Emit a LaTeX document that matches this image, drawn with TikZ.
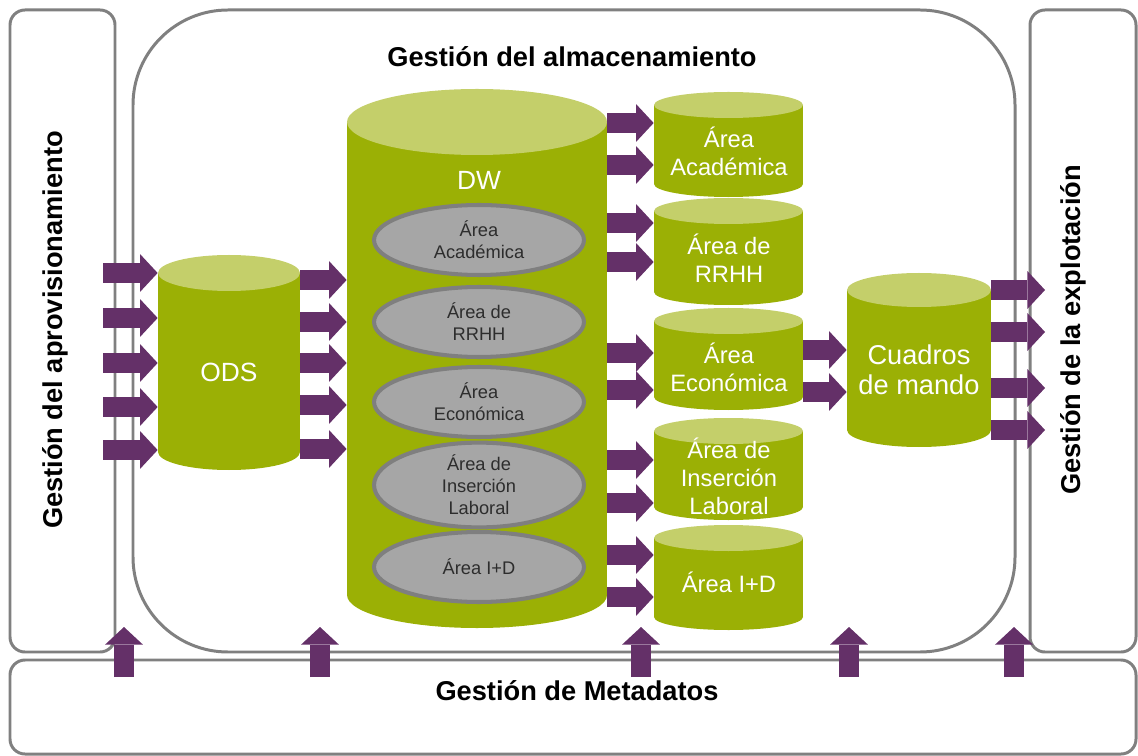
\documentclass[tikz,border=0pt]{standalone}
\usepackage{fontspec}
\setmainfont{Liberation Sans}
\usetikzlibrary{arrows.meta,fit,shapes.geometric}

\definecolor{dwgreen}{RGB}{155,176,5}
\definecolor{dwlight}{RGB}{196,207,106}
\definecolor{flowpurple}{RGB}{100,48,104}
\definecolor{framegray}{RGB}{128,128,128}
\definecolor{areagray}{RGB}{166,166,166}
\definecolor{areadark}{RGB}{127,127,127}
\definecolor{textgray}{RGB}{45,45,45}

% drum: name, left, right, top, bottom, half height of the caps
\newcommand{\drum}[6]{
  \fill[dwgreen] (#2,#4) rectangle (#3,#5);
  \fill[dwgreen] ({(#2+#3)/2},#5) ellipse [x radius = {(#3-#2)/2}, y radius = #6];
  \fill[dwlight] ({(#2+#3)/2},#4) ellipse [x radius = {(#3-#2)/2}, y radius = #6];
  \path (#2,#4) coordinate (#1-nw) (#3,#5) coordinate (#1-se);
  \node[fit = (#1-nw)(#1-se), inner sep = 0pt] (#1) {};
}

\begin{document}
\begin{tikzpicture}[
    x = 0.02cm, y = -0.02cm,
    frame/.style = {draw = framegray, line width = 1.7pt, rounded corners = 0.3cm},
    title/.style = {font = \fontsize{15.5}{18}\selectfont\bfseries},
    drumtext/.style = {
      text = white, align = center, inner sep = 0pt,
      font = \fontsize{13.5}{16}\selectfont,
    },
    area/.style = {
      ellipse, draw = areadark, line width = 2.3pt, fill = areagray,
      minimum width = 4.2cm, minimum height = 1.4cm, inner sep = 0pt,
      align = center, text = textgray, font = \fontsize{10.4}{12.5}\selectfont,
    },
    flow/.style = {
      draw = flowpurple, line width = 11.3pt,
      -{Triangle[width = 21.5pt, length = 10pt, line width = 0pt]},
    },
  ]

  \useasboundingbox (0,0) rectangle (1138,756);

  \draw[frame] (10,10) rectangle (115,652);
  \draw[frame, rounded corners = 1.9cm] (133,10) rectangle (1015,652);
  \draw[frame] (1030,10) rectangle (1136,652);
  \draw[frame] (10,660) rectangle (1136,754);

  \node[title] (alm) at (572,57) {Gestión del almacenamiento};
  \node[title, rotate = 90] (prov) at (55,330) {Gestión del aprovisionamiento};
  \node[title, rotate = 90] (expl) at (1073,330) {Gestión de la explotación};
  \node[title] (meta) at (577,691) {Gestión de Metadatos};

  \drum{ods}{158}{300}{273}{452}{18}
  \drum{dw}{347}{607}{122}{595}{33}
  \drum{acad}{654}{803}{105}{184}{13}
  \drum{rrhh}{654}{803}{211}{292}{13}
  \drum{econ}{654}{803}{321}{397}{13}
  \drum{ins}{654}{803}{431}{507}{13}
  \drum{id}{654}{803}{538}{617}{13}
  \drum{cm}{847}{991}{290}{430}{17}

  \node[drumtext, font = \fontsize{15}{18}\selectfont] (ods-t) at (229,372) {ODS};
  \node[drumtext, font = \fontsize{15}{18}\selectfont] (dw-t) at (479,180) {DW};
  \node[drumtext] (acad-t) at (729,151) {Área\\Académica};
  \node[drumtext] (rrhh-t) at (729,258) {Área de\\RRHH};
  \node[drumtext] (econ-t) at (729,367) {Área\\Económica};
  \node[drumtext] (ins-t) at (729,476) {Área de\\Inserción\\Laboral};
  \node[drumtext] (id-t) at (729,582) {Área I+D};
  \node[drumtext, font = \fontsize{15.5}{17}\selectfont] (cm-t) at (919,370) {Cuadros\\de mando};

  \node[area] (dw-acad) at (479,240) {Área\\Académica};
  \node[area] (dw-rrhh) at (479,322) {Área de\\RRHH};
  \node[area] (dw-econ) at (479,402) {Área\\Económica};
  \node[area] (dw-ins) at (479,485) {Área de\\Inserción\\Laboral};
  \node[area] (dw-id) at (479,567) {Área I+D};

  \foreach \y in {273,318,363,407,450}
    \draw[flow] (103,\y) -- (ods.west |- 0,\y);
  \foreach \y in {280,322,363,405,449}
    \draw[flow] (ods.east |- 0,\y) -- (dw.west |- 0,\y);
  \foreach \y in {123,165}
    \draw[flow] (dw.east |- 0,\y) -- (acad.west |- 0,\y);
  \foreach \y in {223,262}
    \draw[flow] (dw.east |- 0,\y) -- (rrhh.west |- 0,\y);
  \foreach \y in {353,390}
    \draw[flow] (dw.east |- 0,\y) -- (econ.west |- 0,\y);
  \foreach \y in {460,503}
    \draw[flow] (dw.east |- 0,\y) -- (ins.west |- 0,\y);
  \foreach \y in {555,597}
    \draw[flow] (dw.east |- 0,\y) -- (id.west |- 0,\y);
  \foreach \y in {350,392}
    \draw[flow] (econ.east |- 0,\y) -- (cm.west |- 0,\y);
  \foreach \y in {290,332,388,430}
    \draw[flow] (cm.east |- 0,\y) -- (1045,\y);
  \foreach \x in {124,320,641,849,1014}
    \draw[flow] (\x,677) -- (\x,627);
\end{tikzpicture}
\end{document}
